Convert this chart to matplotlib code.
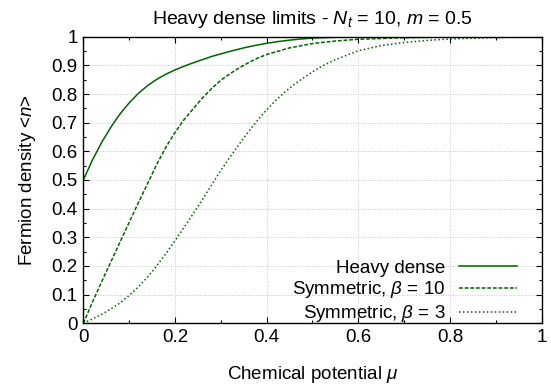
import numpy as np
import matplotlib
matplotlib.use("Agg")
import matplotlib.pyplot as plt
from matplotlib.ticker import MultipleLocator

# Значення
mu_heavy = [0, 0.02, 0.04, 0.06, 0.08, 0.1, 0.12, 0.14, 0.16, 0.18, 0.2,
            0.22, 0.24, 0.26, 0.28, 0.3, 0.325, 0.35, 0.375, 0.4, 0.425,
            0.45, 0.475, 0.5, 0.55, 0.6, 0.7, 1.0]
n_heavy = [0.5, 0.57, 0.631, 0.684, 0.73, 0.769, 0.802, 0.829, 0.851,
           0.869, 0.884, 0.897, 0.909, 0.92, 0.931, 0.94, 0.951, 0.961,
           0.9695, 0.977, 0.983, 0.988, 0.992, 0.995, 0.998, 0.9993, 1.0,
           1.0]

mu_sym10 = [0, 0.02, 0.04, 0.06, 0.08, 0.1, 0.12, 0.144, 0.16, 0.18, 0.2,
            0.22, 0.24, 0.26, 0.28, 0.3, 0.32, 0.34, 0.36, 0.38, 0.4, 0.45,
            0.5, 0.55, 0.6, 0.7, 0.8, 0.9, 1.0]
n_sym10 = [0, 0.074, 0.145, 0.214, 0.283, 0.352, 0.42, 0.5, 0.554, 0.614,
           0.666, 0.711, 0.749, 0.786, 0.819, 0.848, 0.871, 0.891, 0.909,
           0.925, 0.938, 0.961, 0.976, 0.985, 0.991, 0.9964, 0.9986,
           0.9995, 0.9998]

mu_sym3 = [0, 0.02, 0.04, 0.06, 0.08, 0.1, 0.12, 0.14, 0.16, 0.18, 0.2,
           0.22, 0.24, 0.26, 0.28, 0.3, 0.32, 0.34, 0.36, 0.38, 0.4, 0.42,
           0.44, 0.46, 0.48, 0.5, 0.52, 0.55, 0.6, 0.65, 0.7, 0.75, 0.8,
           0.9, 1.0]
n_sym3 = [0, 0.015, 0.031, 0.05, 0.071, 0.097, 0.127, 0.161, 0.2, 0.243,
          0.288, 0.335, 0.383, 0.432, 0.483, 0.533, 0.58, 0.625, 0.668,
          0.708, 0.745, 0.778, 0.807, 0.833, 0.856, 0.877, 0.897, 0.92,
          0.951, 0.969, 0.98, 0.987, 0.992, 0.997, 0.999]

labels = ["Heavy dense", r"Symmetric, $\beta$ = 10", r"Symmetric, $\beta$ = 3"]

plt.rcParams["font.family"] = ["Liberation Sans", "DejaVu Sans"]
plt.rcParams["mathtext.fontset"] = "custom"
plt.rcParams["mathtext.rm"] = "Liberation Sans"
plt.rcParams["mathtext.it"] = "Liberation Sans:italic"
plt.rcParams["font.size"] = 13.5

fig = plt.figure(figsize=(5.51, 3.92), dpi=100)
ax = fig.add_axes([0.1512, 0.1753, 0.8319, 0.7311])

green = "#006400"
ax.plot(mu_heavy, n_heavy, color=green, lw=1.1, label=labels[0])
ax.plot(mu_sym10, n_sym10, color=green, lw=1.1, linestyle=(0, (2.5, 1.2)),
        label=labels[1])
ax.plot(mu_sym3, n_sym3, color=green, lw=1.1, linestyle=(0, (1, 1.6)),
        label=labels[2])

ax.set_xlim(0, 1)
ax.set_ylim(0, 1)
ax.xaxis.set_major_locator(MultipleLocator(0.2))
ax.xaxis.set_minor_locator(MultipleLocator(0.1))
ax.yaxis.set_major_locator(MultipleLocator(0.1))
ax.yaxis.set_minor_locator(MultipleLocator(0.05))
ax.xaxis.set_major_formatter(plt.FuncFormatter(lambda v, p: f"{v:g}"))
ax.yaxis.set_major_formatter(plt.FuncFormatter(lambda v, p: f"{v:g}"))
ax.tick_params(which="both", direction="in", top=True, right=True)
ax.tick_params(which="major", length=4, width=0.8, pad=4)
ax.tick_params(which="minor", length=2.5, width=0.8)
for s in ax.spines.values():
    s.set_linewidth(1.0)

ax.grid(which="major", color="#c8c8c8", linestyle=(0, (1, 1.5)), lw=0.7)
ax.set_axisbelow(True)

ax.set_xlabel(r"Chemical potential $\mu$", labelpad=13)
ax.set_ylabel(r"Fermion density <$n$>", labelpad=10)
ax.set_title(r"Heavy dense limits - $N_t$ = 10, $m$ = 0.5", fontsize=14,
             pad=9)

ax.legend(loc="lower right", frameon=False, markerfirst=False,
          handlelength=3.1, labelspacing=0.15, borderpad=0,
          borderaxespad=0, handletextpad=0.7,
          bbox_to_anchor=(1 - 25 / 458.4, -1 / 286.6))

fig.savefig("out.png", dpi=100)
